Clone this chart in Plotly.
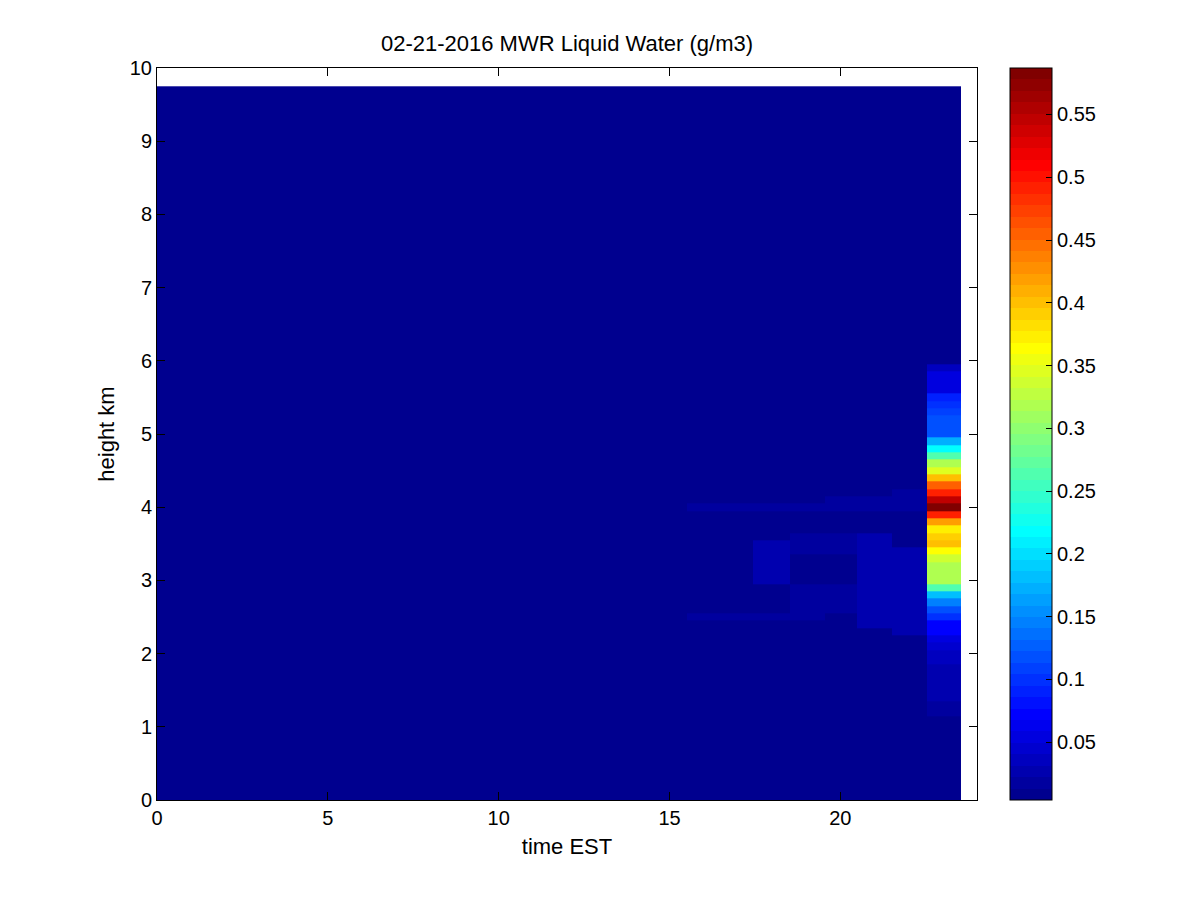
import plotly.graph_objects as go

# grid (cell edges) of the MWR retrieval
time_edges = [0.0, 0.52, 1.52, 2.52, 3.52, 4.52, 5.52, 6.52, 7.52, 8.52, 9.52,
              10.52, 11.52, 12.52, 13.52, 14.52, 15.52, 16.5, 17.45, 18.53,
              19.55, 20.5, 21.5, 22.55, 23.54]
height_edges = [0.0] + [round(0.05 + 0.1 * k, 2) for k in range(98)]

background = 0.004

# last profile (22.55-23.54 EST), rows starting at 1.15 km, 0.1 km apart
last_profile_start = 1.15
last_profile = [0.018, 0.018, 0.027, 0.027, 0.027, 0.027, 0.027, 0.032, 0.036,
                0.045, 0.05, 0.069, 0.069, 0.098, 0.115, 0.145, 0.185, 0.263,
                0.316, 0.316, 0.316, 0.335, 0.365, 0.397, 0.387, 0.374, 0.414,
                0.494, 0.587, 0.546, 0.494, 0.455, 0.397, 0.345, 0.316, 0.263,
                0.217, 0.168, 0.121, 0.121, 0.121, 0.11, 0.103, 0.092, 0.054,
                0.054, 0.054, 0.037]

# faint patches of liquid water earlier in the evening: t0, t1, h0, h1, value
patches = [
    (15.52, 19.55, 3.95, 4.05, 0.018),
    (15.52, 19.55, 2.45, 2.55, 0.018),
    (17.45, 18.53, 2.95, 3.55, 0.027),
    (18.53, 20.5, 3.35, 3.65, 0.022),
    (18.53, 20.5, 2.55, 2.95, 0.018),
    (19.55, 22.55, 3.95, 4.15, 0.022),
    (21.5, 22.55, 4.15, 4.25, 0.018),
    (20.5, 21.5, 2.35, 3.65, 0.031),
    (21.5, 22.55, 2.55, 3.45, 0.029),
    (21.5, 22.55, 2.25, 2.55, 0.024),
]

zmin, zmax = 0.004, 0.587
cb_ticks = [0.05, 0.1, 0.15, 0.2, 0.25, 0.3, 0.35, 0.4, 0.45, 0.5, 0.55]

nrows = len(height_edges) - 1
ncols = len(time_edges) - 1
z = [[background] * ncols for _ in range(nrows)]

for t0, t1, h0, h1, v in patches:
    for r in range(nrows):
        if height_edges[r] >= h0 - 1e-6 and height_edges[r + 1] <= h1 + 1e-6:
            for c in range(ncols):
                if time_edges[c] >= t0 - 1e-6 and time_edges[c + 1] <= t1 + 1e-6:
                    z[r][c] = v

r0 = height_edges.index(last_profile_start)
for k, v in enumerate(last_profile):
    z[r0 + k][ncols - 1] = v


# MATLAB jet(64), drawn as 64 flat bands
def jet64():
    m, n = 64, 16
    u = [i / n for i in range(1, n + 1)] + [1.0] * (n - 1) + [i / n for i in range(n, 0, -1)]
    J = [[0.0, 0.0, 0.0] for _ in range(m)]
    for k, val in enumerate(u):
        g = 8 + k + 1
        for ch, idx in ((0, g + n), (1, g), (2, g - n)):
            if 1 <= idx <= m:
                J[idx - 1][ch] = val
    return J


jet = jet64()
colorscale = []
for i, (r, g, b) in enumerate(jet):
    col = 'rgb(%d,%d,%d)' % (round(r * 255), round(g * 255), round(b * 255))
    colorscale.append([i / 64, col])
    colorscale.append([(i + 1) / 64, col])

family = 'Liberation Sans, Arial, sans-serif'
tick_font = dict(family=family, size=20, color='black')
title_font = dict(family=family, size=22, color='black')

# the page body adds 8px, so the figure itself sits 8px up/left
fig = go.Figure(go.Heatmap(
    x=time_edges,
    y=height_edges,
    z=z,
    zmin=zmin,
    zmax=zmax,
    colorscale=colorscale,
    zsmooth=False,
    hoverinfo='skip',
    colorbar=dict(
        x=(1010 - 157) / 820, xanchor='left', xpad=0, ypad=0,
        y=0.5, yanchor='middle', len=1, lenmode='fraction',
        thickness=42, thicknessmode='pixels',
        outlinewidth=1, outlinecolor='black',
        tickvals=cb_ticks, ticks='inside', ticklen=6, tickcolor='black',
        tickfont=tick_font,
    ),
))

fig.update_layout(
    width=1200, height=900,
    margin=dict(l=149, r=231, t=60, b=108, pad=0),
    paper_bgcolor='white', plot_bgcolor='white',
    font=tick_font,
    title=dict(text='02-21-2016 MWR Liquid Water (g/m3)', x=559 / 1200, xanchor='center',
               y=1 - 35 / 900, yanchor='middle', font=title_font),
    showlegend=False,
)
fig.update_xaxes(
    range=[0, 24], tickvals=[0, 5, 10, 15, 20], ticks='inside', ticklen=8,
    tickcolor='black', showline=True, linecolor='black', linewidth=1, mirror='ticks',
    showgrid=False, zeroline=False, tickfont=tick_font,
    title=dict(text='time EST', standoff=10, font=title_font),
)
fig.update_yaxes(
    range=[0, 10], dtick=1, ticks='inside', ticklen=8, tickcolor='black',
    showline=True, linecolor='black', linewidth=1, mirror='ticks',
    showgrid=False, zeroline=False, tickfont=tick_font,
    title=dict(text='height km', standoff=9, font=title_font),
)

fig.write_html('out.html')
